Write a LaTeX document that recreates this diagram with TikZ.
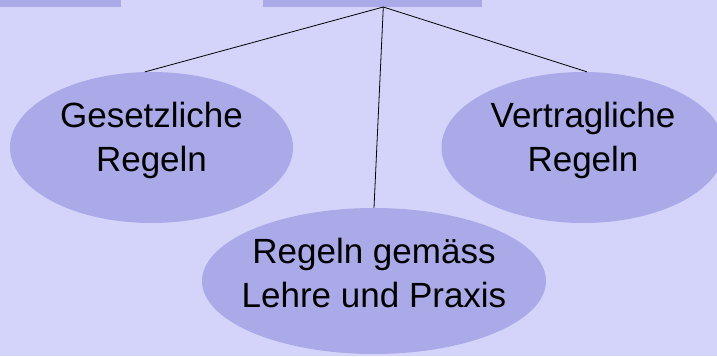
\documentclass[tikz,border=0pt]{standalone}
\usepackage{fontspec}
\setmainfont{Liberation Sans}
\usetikzlibrary{shapes.geometric}
\definecolor{bgc}{RGB}{212,212,250}
\definecolor{elc}{RGB}{170,170,232}
\tikzset{
  bubble/.style={ellipse, fill=elc, draw=none, inner sep=0pt},
  lbl/.style={inner sep=0pt, align=center,
    font=\fontsize{35}{43.5}\selectfont, text depth=0pt},
  topbar/.style={fill=elc, draw=none, inner sep=0pt},
  link/.style={draw=black, line width=0.8pt}
}
\begin{document}
\begin{tikzpicture}[x=1pt,y=-1pt]
\fill[bgc] (0,0) rectangle (717,356);
\useasboundingbox (0,0) rectangle (717,356);
\node[topbar, minimum width=121pt, minimum height=7pt, anchor=north west] (tl) at (0,0) {};
\node[topbar, minimum width=219.5pt, minimum height=7pt, anchor=north west] (tm) at (262.3,0) {};
\coordinate (apex) at (383.3,7);
\node[bubble, minimum width=283pt, minimum height=151pt] (l) at (151.5,147.5) {};
\node[bubble, minimum width=283pt, minimum height=151pt] (r) at (583,147.5) {};
\node[bubble, minimum width=344pt, minimum height=146pt] (m) at (374,281) {};
\node[lbl, text height=47pt] (lt) at (l.center) {Gesetzliche\\Regeln};
\node[lbl, text height=47pt] (rt) at (r.center) {Vertragliche\\Regeln};
\node[lbl, text height=52pt] (mt) at (m.center) {Regeln gemäss\\Lehre und Praxis};
\draw[link] (apex) -- (l.95);
\draw[link] (apex) -- (m.north);
\draw[link] (apex) -- (r.87);
\end{tikzpicture}
\end{document}
